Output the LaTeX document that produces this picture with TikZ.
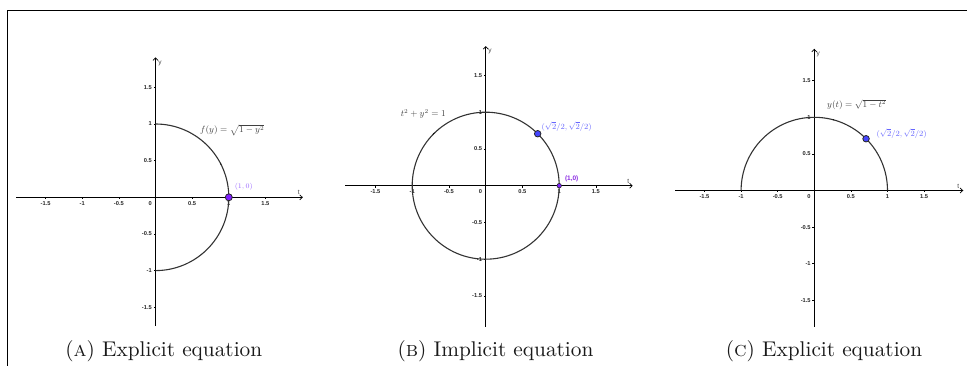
\documentclass[tikz,border=0pt]{standalone}
\usepackage{fontspec}
\usepackage{amsmath}
\newfontfamily\ggsans{Liberation Sans}
\usetikzlibrary{arrows.meta}
\definecolor{curvegray}{HTML}{333333}
\definecolor{labgray}{HTML}{404040}
\definecolor{ptpurple}{HTML}{7F1FFF}
\definecolor{labpurple}{HTML}{9966FF}
\definecolor{boldpurple}{HTML}{8A2BE2}
\definecolor{ptblue}{HTML}{4545FF}
\definecolor{labblue}{HTML}{6666FF}
\newcommand{\capscale}[1]{\scalebox{2.13}{\fontsize{10}{12}\selectfont #1}}
\tikzset{
  axisline/.style={line width=1.1pt, black, -{Straight Barb[length=2.6pt,width=5pt,line width=0.7pt]}},
  curveline/.style={line width=1.1pt, curvegray},
  tickline/.style={line width=0.7pt, black},
  ticklab/.style={font=\ggsans\bfseries\fontsize{5.7}{6}\selectfont, inner sep=0pt, text=black!85},
  axislab/.style={font=\ggsans\fontsize{6.5}{7}\selectfont, inner sep=0pt, text=labgray},
  graylab/.style={font=\fontsize{9}{10}\selectfont, inner sep=0pt, text=labgray},
  ptmark/.style={circle, draw=black!85, line width=0.8pt, inner sep=0pt, minimum size=7pt},
  tinydot/.style={circle, fill=black, inner sep=0pt, minimum size=1.4pt},
  caption/.style={inner sep=0pt, text=black!90},
  frameline/.style={line width=1.2pt, black}
}
\begin{document}
\begin{tikzpicture}[x=1pt,y=1pt]
\useasboundingbox (0,0) rectangle (967,-366);
\draw[frameline] (7.5,-366) -- (7.5,-10.5) -- (967,-10.5);

% ---------- Panel A ----------
\begin{scope}[shift={(155.5,-197.3)}, x=73.3pt, y=73.3pt]
  \draw[axisline] (-1.9,0) -- (2.01,0);
  \draw[axisline] (0,-1.756) -- (0,1.91);
  \foreach \v/\l [count=\i] in {-1.5/-1.5,-1/-1,-0.5/-0.5,0.5/0.5,1/1,1.5/1.5}{
    \draw[tickline] (\v,0) -- ++(0,-2pt);
    \node[ticklab, below=4pt] (A-x\i) at (\v,0) {\l};
    \draw[tickline] (0,\v) -- ++(-2pt,0);
    \node[ticklab, left=3.5pt] (A-y\i) at (0,\v) {\l};
  }
  \node[ticklab, anchor=north east] (A-o) at ([xshift=-3.5pt,yshift=-4pt]0,0) {0};
  \node[axislab] (A-ylab) at (0.06,1.82) {y};
  \node[axislab] (A-tlab) at (1.955,0.06) {t};
  \draw[curveline] (0,1) arc[start angle=90, end angle=-90, radius=1];
  \node[tinydot] (A-d) at (27:1) {};
  \node[ptmark, fill=ptpurple] (A-p) at (1,0) {};
  \node[inner sep=0pt, text=labpurple, font=\fontsize{7.5}{8}\selectfont] (A-pl) at (1.205,0.15) {$(1,0)$};
  \node[graylab] (A-eq) at (1.046,0.918) {$f(y)=\sqrt{1-y^2}$};
\end{scope}

% ---------- Panel B ----------
\begin{scope}[shift={(485.7,-185.7)}, x=73.5pt, y=73.5pt]
  \draw[axisline] (-1.914,0) -- (2.0,0);
  \draw[axisline] (0,-1.918) -- (0,1.9);
  \foreach \v/\l [count=\i] in {-1.5/-1.5,-1/-1,-0.5/-0.5,0.5/0.5,1/1,1.5/1.5}{
    \draw[tickline] (\v,0) -- ++(0,-2pt);
    \node[ticklab, below=4pt] (B-x\i) at (\v,0) {\l};
    \draw[tickline] (0,\v) -- ++(-2pt,0);
    \node[ticklab, left=3.5pt] (B-y\i) at (0,\v) {\l};
  }
  \node[ticklab, anchor=north east] (B-o) at ([xshift=-3.5pt,yshift=-4pt]0,0) {0};
  \node[axislab] (B-ylab) at (0.058,1.823) {y};
  \node[axislab] (B-tlab) at (1.94,0.06) {t};
  \draw[curveline] (0,0) circle[radius=1];
  \node[tinydot] (B-d) at (135:1) {};
  \node[ptmark, fill=ptblue, minimum size=6.5pt] (B-q) at (45:1) {};
  \node[ptmark, fill=ptpurple, minimum size=4.5pt, line width=0.6pt] (B-p) at (1,0) {};
  \node[inner sep=0pt, text=labblue, font=\fontsize{8.5}{9}\selectfont] (B-ql) at (1.102,0.803) {$(\sqrt{2}/2,\sqrt{2}/2)$};
  \node[inner sep=0pt, text=boldpurple, font=\ggsans\bfseries\fontsize{6.5}{7}\selectfont] (B-pl) at (1.17,0.10) {(1,0)};
  \node[graylab] (B-eq) at (-0.849,0.976) {$t^2+y^2=1$};
\end{scope}

% ---------- Panel C ----------
\begin{scope}[shift={(814.3,-190.5)}, x=73.2pt, y=73.2pt]
  \draw[axisline] (-1.90,0) -- (2.035,0);
  \draw[axisline] (0,-1.86) -- (0,1.936);
  \foreach \v/\l [count=\i] in {-1.5/-1.5,-1/-1,-0.5/-0.5,0.5/0.5,1/1,1.5/1.5}{
    \draw[tickline] (\v,0) -- ++(0,-2pt);
    \node[ticklab, below=4pt] (C-x\i) at (\v,0) {\l};
    \draw[tickline] (0,\v) -- ++(-2pt,0);
    \node[ticklab, left=3.5pt] (C-y\i) at (0,\v) {\l};
  }
  \node[ticklab, anchor=north east] (C-o) at ([xshift=-3.5pt,yshift=-4pt]0,0) {0};
  \node[axislab] (C-ylab) at (0.055,1.858) {y};
  \node[axislab] (C-tlab) at (1.967,0.05) {t};
  \draw[curveline] (1,0) arc[start angle=0, end angle=180, radius=1];
  \node[tinydot] (C-d) at (75:1) {};
  \node[ptmark, fill=ptblue, minimum size=6.5pt] (C-q) at (45:1) {};
  \node[inner sep=0pt, text=labblue, font=\fontsize{8.5}{9}\selectfont] (C-ql) at (1.194,0.775) {$(\sqrt{2}/2,\sqrt{2}/2)$};
  \node[graylab] (C-eq) at (0.579,1.175) {$y(t)=\sqrt{1-t^2}$};
\end{scope}

% ---------- Captions ----------
\node[caption, anchor=base] (capA) at (163.8,-356.5) {\capscale{(\textsc{a}) Explicit equation}};
\node[caption, anchor=base] (capB) at (495.5,-356.5) {\capscale{(\textsc{b}) Implicit equation}};
\node[caption, anchor=base] (capC) at (824,-356.5) {\capscale{(\textsc{c}) Explicit equation}};
\end{tikzpicture}
\end{document}
